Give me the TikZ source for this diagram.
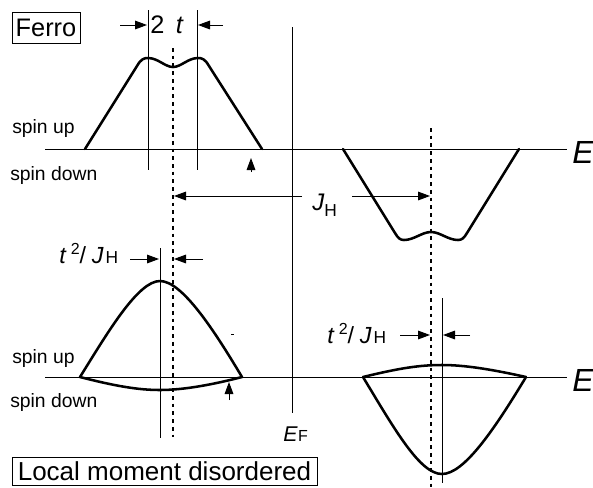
\documentclass[tikz,border=0pt]{standalone}
\usepackage{fontspec}
\setmainfont{Liberation Sans}
\usetikzlibrary{arrows.meta}
\newcommand\myfs[1]{\fontsize{#1}{#1}\selectfont}
\begin{document}
\begin{tikzpicture}[x=0.75pt,y=-0.75pt,
  thinln/.style={line width=0.75pt},
  curveln/.style={line width=1.9pt, line join=round, line cap=round},
  dotln/.style={line width=1.1pt, dash pattern=on 2.8pt off 3pt},
  dimarrow/.style={line width=0.75pt, -{Triangle[length=9pt,width=6.5pt]}},
  lbl/.style={inner sep=0pt, anchor=base west},
  boxlbl/.style={draw, line width=0.75pt, inner sep=0pt, align=center}]
\useasboundingbox (0,0) rectangle (593,487);

% ---------------- top panel (Ferro) ----------------
\node[boxlbl, minimum width=51pt, minimum height=23.25pt, font=\myfs{19pt}] (ferro) at (46,27.5) {Ferro};

\draw[thinln] (45,149) coordinate (axT0) -- (567,149) coordinate (axT1);
\node[lbl, font=\myfs{24pt}\itshape] (ET) at (572,163) {E};

\node[lbl, font=\myfs{14.5pt}] (suT) at (12,133) {spin up};
\node[lbl, font=\myfs{14.5pt}] (sdT) at (10,180) {spin down};

% vertical guide lines
\draw[thinln] (148,10) coordinate (vA0) -- (148,170) coordinate (vA1);
\draw[thinln] (197,10) coordinate (vB0) -- (197,170) coordinate (vB1);
\draw[thinln] (292,27) coordinate (EF0) -- (292,413) coordinate (EF1);
\draw[dotln] (173,48) coordinate (dL0) -- (173,437) coordinate (dL1);
\draw[dotln] (431,128) coordinate (dR0) -- (431,487) coordinate (dR1);

% 2t
\node[lbl, font=\myfs{19pt}] (twot) at (150,33) {2\hspace{0.45em}\textit{t}};
\draw[dimarrow] (120,25) -- (147,25);
\draw[dimarrow] (223,25) -- (198,25);

% spin-up band (ferro)
\draw[curveln] (85,149) -- (137,66) .. controls (141,59) and (144,58) .. (148,58)
  .. controls (158,58) and (165,67) .. (173,67)
  .. controls (181,67) and (188,58) .. (198,58)
  .. controls (202,58) and (205,59) .. (209,66) -- (262,149);

% spin-down band (ferro)
\draw[curveln] (343,149) -- (395,233) .. controls (398,238) and (400,240) .. (404,240)
  .. controls (414,240) and (422,232) .. (431,232)
  .. controls (440,232) and (448,240) .. (458,240)
  .. controls (462,240) and (464,238) .. (467,233) -- (519,149);

% small arrow
\draw[dimarrow] (251,172) -- (251,158);

% J_H
\draw[dimarrow] (302,196) -- (174,196);
\draw[dimarrow] (352,196) -- (430,196);
\node[lbl, font=\myfs{18pt}] (JH) at (312,210) {\textit{J}\raisebox{-5.2pt}{\myfs{13pt}H}};

% ---------------- bottom panel (Local moment disordered) ----------------
\draw[thinln] (45,377) coordinate (axB0) -- (567,377) coordinate (axB1);
\node[lbl, font=\myfs{24pt}\itshape] (EB) at (572,391) {E};

\node[lbl, font=\myfs{14.5pt}] (suB) at (12,363) {spin up};
\node[lbl, font=\myfs{14.5pt}] (sdB) at (10,407) {spin down};

\draw[thinln] (160,248) coordinate (vC0) -- (160,438) coordinate (vC1);
\draw[thinln] (442,298) coordinate (vD0) -- (442,483) coordinate (vD1);

% t^2/J_H left
\node[lbl, font=\myfs{17.5pt}] (tjL) at (59,263) {\textit{t}\hspace{0.18em}\raisebox{6.5pt}{\myfs{12pt}2}/\hspace{0.25em}\textit{J}\hspace{0.08em}{\myfs{13pt}H}};
\draw[dimarrow] (130,259) -- (159,259);
\draw[dimarrow] (203,259) -- (174,259);

% t^2/J_H right
\node[lbl, font=\myfs{17.5pt}] (tjR) at (327,343) {\textit{t}\hspace{0.18em}\raisebox{6.5pt}{\myfs{12pt}2}/\hspace{0.25em}\textit{J}\hspace{0.08em}{\myfs{13pt}H}};
\draw[dimarrow] (400,335) -- (430,335);
\draw[dimarrow] (470,335) -- (443,335);

% spin-up band (LMD), left
\draw[curveln] (80,377) .. controls (108,332) and (138,281) .. (160,281)
  .. controls (182,281) and (214,330) .. (242,377);
\draw[curveln] (80,377) .. controls (115,386) and (138,390) .. (160,390)
  .. controls (185,390) and (215,384) .. (242,377);

% stray mark
\draw[line width=0.6pt] (231,334.5) -- (233.5,334.5);

% small arrow
\draw[dimarrow] (229,400) -- (229,382);

% spin-down band (LMD), right
\draw[curveln] (363,377) .. controls (400,368) and (420,365) .. (442,365)
  .. controls (464,365) and (490,369) .. (526,377);
\draw[curveln] (363,377) .. controls (395,430) and (420,474) .. (442,474)
  .. controls (464,474) and (494,430) .. (526,377);

% E_F
\node[lbl, font=\myfs{16pt}] (EF) at (283,441) {\textit{E}\hspace{0.02em}{\myfs{12pt}F}};

\node[boxlbl, minimum width=228.75pt, minimum height=21pt, font=\myfs{19.5pt}] (lmd) at (164.5,471) {Local moment disordered};
\end{tikzpicture}
\end{document}
